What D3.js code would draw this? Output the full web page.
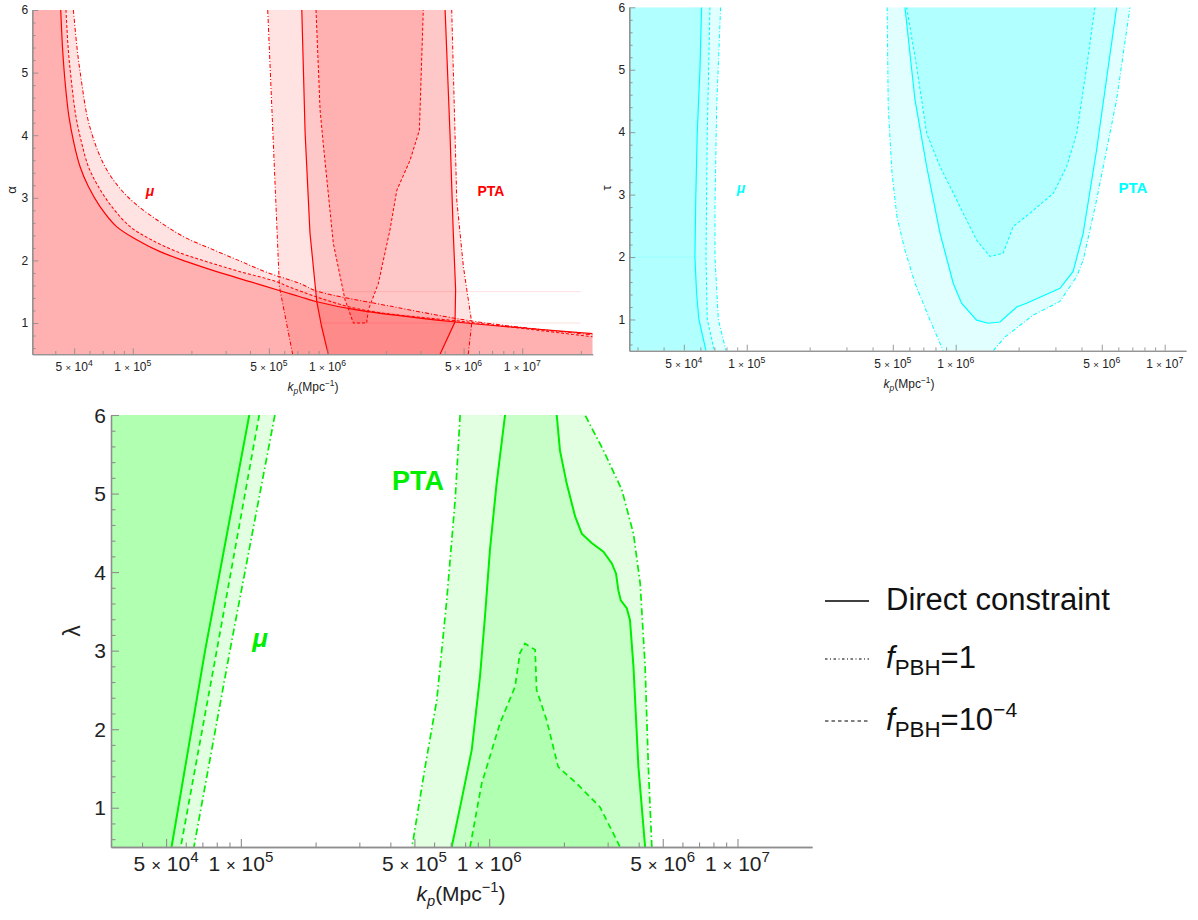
<!DOCTYPE html>
<html><head><meta charset="utf-8">
<script src="https://cdn.jsdelivr.net/npm/d3@7"></script>
<style>
body{margin:0;background:#fff;}
svg{display:block;font-family:"Liberation Sans",Arial,sans-serif;}
</style></head>
<body><svg id="c" width="1198" height="920"></svg>
<script>
// ---------------- DATA (each point: [log10 k_p (Mpc^-1), parameter]) ----------------
// Top-left panel (alpha)
const alphaMuDirect = [[4.630,6],[4.640,5.36],[4.653,4.83],[4.672,4.30],[4.698,3.87],[4.729,3.50],[4.772,3.18],[4.832,2.86],[4.917,2.54],[5.020,2.33],[5.140,2.14],[5.277,1.98],[5.431,1.82],[5.602,1.66],[5.773,1.50],[5.859,1.42],[5.945,1.34],[6.150,1.21],[6.645,1.02],[7.006,0.92],[7.362,0.83]];
const alphaMuF4 = [[4.657,6],[4.669,5.36],[4.686,4.83],[4.708,4.30],[4.738,3.87],[4.772,3.50],[4.823,3.18],[4.892,2.86],[4.986,2.54],[5.089,2.34],[5.226,2.14],[5.380,1.98],[5.551,1.82],[5.739,1.66],[5.808,1.57],[6.150,1.23],[6.767,1.00],[7.362,0.78]];
const alphaMuF1 = [[4.695,6],[4.715,5.36],[4.738,4.83],[4.766,4.30],[4.806,3.87],[4.857,3.50],[4.926,3.18],[5.011,2.91],[5.123,2.65],[5.260,2.38],[5.414,2.17],[5.551,1.99],[5.688,1.81],[5.859,1.63],[5.945,1.51],[6.321,1.27],[6.767,1.02],[7.362,0.81]];
const alphaPtaDirectLeft = [[5.868,6],[5.885,4.04],[5.910,2.44],[5.945,1.34],[5.970,0.94],[6.004,0.5]];
const alphaPtaDirectRight = [[6.578,0.5],[6.655,1.02],[6.658,1.53],[6.646,2.44],[6.629,4.04],[6.604,6]];
const alphaPtaF1Left = [[5.693,6],[5.753,1.58],[5.821,0.5]];
const alphaPtaF1Right = [[6.723,0.5],[6.741,1.0],[6.698,1.90],[6.664,2.96],[6.638,6]];
const alphaPtaF4 = [[5.941,6],[5.962,4.40],[5.978,3.87],[6.030,2.27],[6.090,1.37],[6.133,1.0],[6.201,1.0],[6.210,1.21],[6.261,1.63],[6.321,2.49],[6.356,3.12],[6.424,3.60],[6.472,4.08],[6.492,6]];

// Top-right panel (tau)
const tauMuDirect = [[4.784,6],[4.776,5.0],[4.763,3.98],[4.756,2.92],[4.752,2.0],[4.760,1.42],[4.771,1.0],[4.805,0.5]];
const tauMuF4 = [[4.824,6],[4.811,3.98],[4.805,2.0],[4.811,1.0],[4.845,0.5]];
const tauMuF1 = [[4.875,6],[4.856,4.40],[4.848,2.8],[4.848,2.0],[4.864,1.0],[4.901,0.5]];
const tauPtaDirect = [[5.757,6],[5.805,4.52],[5.861,3.45],[5.925,2.38],[5.988,1.58],[6.028,1.26],[6.100,0.99],[6.156,0.94],[6.212,0.96],[6.292,1.20],[6.339,1.26],[6.499,1.50],[6.562,1.77],[6.610,2.38],[6.674,3.71],[6.770,6]];
const tauPtaF4 = [[5.765,6],[5.813,5.05],[5.861,3.98],[5.925,3.45],[6.005,2.91],[6.100,2.27],[6.164,2.01],[6.227,2.06],[6.275,2.49],[6.355,2.70],[6.467,3.02],[6.531,3.45],[6.579,3.98],[6.627,5.05],[6.666,6]];
const tauPtaF1Left = [[5.672,6],[5.677,4.40],[5.695,3.35],[5.719,2.64],[5.757,2.11],[5.805,1.58],[5.877,0.99],[5.940,0.5]];
const tauPtaF1Right = [[6.180,0.5],[6.236,0.72],[6.371,1.07],[6.499,1.29],[6.579,1.69],[6.610,1.95],[6.674,2.91],[6.770,4.52],[6.834,6]];

// Bottom panel (lambda)
const lambdaMuDirect = [[5.034,6],[4.856,3.0],[4.721,0.5]];
const lambdaMuF4 = [[5.074,6],[4.903,3.0],[4.758,0.5]];
const lambdaMuF1 = [[5.137,6],[4.956,3.0],[4.811,0.5]];
const lambdaPtaDirectLeft = [[6.064,6],[6.030,5.13],[6.003,4.28],[5.983,3.43],[5.963,2.67],[5.930,1.74],[5.889,1.10],[5.849,0.5]];
const lambdaPtaDirectRight = [[6.628,0.5],[6.601,1.52],[6.581,2.80],[6.567,3.39],[6.554,3.54],[6.530,3.64],[6.520,3.77],[6.511,3.98],[6.494,4.11],[6.460,4.26],[6.413,4.37],[6.373,4.49],[6.346,4.71],[6.312,5.13],[6.285,5.55],[6.272,6]];
const lambdaPtaF1Left = [[5.883,6],[5.863,4.92],[5.829,3.64],[5.789,2.37],[5.742,1.52],[5.694,0.59],[5.688,0.5]];
const lambdaPtaF1Right = [[6.655,0.5],[6.641,1.52],[6.628,2.80],[6.608,3.86],[6.581,4.49],[6.534,5.05],[6.460,5.55],[6.386,6]];
const lambdaPtaF4 = [[5.923,0.5],[5.970,1.31],[6.044,2.08],[6.104,2.54],[6.124,2.97],[6.144,3.09],[6.185,3.01],[6.191,2.50],[6.231,2.12],[6.278,1.52],[6.352,1.31],[6.446,1.01],[6.486,0.76],[6.527,0.5]];

// Ticks and labels
const yRange = [0.5, 6];
const yMajorTicks = [1,2,3,4,5,6];
const xLabeledTicks = [5e4,1e5,5e5,1e6,5e6,1e7];
const legendLabels = ["Direct constraint","f_PBH=1","f_PBH=10^-4"];
const yAxisSymbols = ["α","τ","λ"];

// ---------------- LAYOUT ----------------
const svg = d3.select('#c');
const AX = '#8e8e8e';

const panels = [
  {sym:yAxisSymbols[0], color:'#ff0000', fill:'#ff0000', box:{l:32.3,r:592.7,t:10,b:354.3}, kDom:[Math.pow(10,4.484),Math.pow(10,7.362)],
   fs:12, maj:6, min:3.3, lw:1.2, dash:'3,2', dashdot:'4,2,1,2',
   ylab:{x:11,y:190,fs:13}, xlab:{x:313,y:391,fs:12}, ytickDx:4, xtickDy:17,
   mu:{label:'μ',x:150,y:196,fs:14}, pta:{label:'PTA',x:491,y:196,fs:14},
   mode:'TL'},
  {sym:yAxisSymbols[1], color:'#00ffff', fill:'#00ffff', box:{l:629.3,r:1186,t:7.3,b:350.7}, kDom:[Math.pow(10,4.438),Math.pow(10,7.102)],
   fs:12, maj:6, min:3.3, lw:1.2, dash:'3,2', dashdot:'4,2,1,2',
   ylab:{x:606,y:188,fs:13}, xlab:{x:909,y:388,fs:12}, ytickDx:4, xtickDy:17,
   mu:{label:'μ',x:741,y:193,fs:14}, pta:{label:'PTA',x:1133,y:193,fs:15},
   mode:'TR'},
  {sym:yAxisSymbols[2], color:'#00ee00', fill:'#00ff00', box:{l:111,r:812,t:415,b:847}, kDom:[3e4,Math.pow(10,7.300)],
   fs:21, maj:8, min:4.5, lw:2, dash:'6,4', dashdot:'7,3,1.5,3',
   ylab:{x:72,y:631,fs:23}, xlab:{x:461,y:901,fs:21}, ytickDx:5, xtickDy:24,
   mu:{label:'μ',x:260,y:647,fs:26}, pta:{label:'PTA',x:418,y:490,fs:27},
   mode:'B'}
];

const regionData = {
  TL: {
    mu:[{d:alphaMuF1,s:'dd'},{d:alphaMuF4,s:'da'},{d:alphaMuDirect,s:'so'}],
    pta:[{l:alphaPtaF1Left,r:alphaPtaF1Right,s:'dd'},{l:alphaPtaDirectLeft,r:alphaPtaDirectRight,s:'so'},{u:alphaPtaF4,s:'da'}],
    seams:[[5.808,7.30,1.5],[5.961,7.30,1.0]]
  },
  TR: {
    mu:[{d:tauMuF1,s:'dd'},{d:tauMuF4,s:'da'},{d:tauMuDirect,s:'so'}],
    pta:[{l:tauPtaF1Left,r:tauPtaF1Right,s:'dd'},{u:tauPtaDirect,s:'so'},{u:tauPtaF4,s:'da'}],
    seams:[[4.438,4.776,2.0]]
  },
  B: {
    mu:[{d:lambdaMuF1,s:'dd'},{d:lambdaMuF4,s:'da'},{d:lambdaMuDirect,s:'so'}],
    pta:[{l:lambdaPtaF1Left,r:lambdaPtaF1Right,s:'dd'},{l:lambdaPtaDirectLeft,r:lambdaPtaDirectRight,s:'so'},{u:lambdaPtaF4,s:'da'}],
    seams:[]
  }
};

const FILL_OP = 0.115;

panels.forEach((p,pi)=>{
  const b = p.box;
  const x = d3.scaleLog().domain(p.kDom).range([b.l,b.r]);
  const y = d3.scaleLinear().domain(yRange).range([b.b,b.t]);
  const lkMin = Math.log10(p.kDom[0]), lkMax = Math.log10(p.kDom[1]);
  const toPx = arr => arr.map(d=>[x(Math.pow(10,d[0])), y(d[1])]);
  const line = d3.line();
  const smooth = d3.line().curve(d3.curveCatmullRom.alpha(0.5));

  const cid = 'clip'+pi;
  svg.append('clipPath').attr('id',cid).append('rect')
     .attr('x',b.l).attr('y',b.t).attr('width',b.r-b.l).attr('height',b.b-b.t);
  const g = svg.append('g').attr('clip-path',`url(#${cid})`);
  const R = regionData[p.mode];

  // fills
  R.mu.forEach(r=>{
    let pts = r.d.slice();
    if (p.mode==='TL') pts = pts.concat([[lkMax,yRange[0]],[lkMin,yRange[0]],[lkMin,yRange[1]]]);
    else pts = pts.concat([[lkMin,yRange[0]],[lkMin,yRange[1]]]);
    g.append('path').attr('d',line(toPx(pts))+'Z').attr('fill',p.fill).attr('fill-opacity',FILL_OP);
  });
  R.pta.forEach(r=>{
    const pts = r.u ? r.u : r.l.concat(r.r);
    g.append('path').attr('d',line(toPx(pts))+'Z').attr('fill',p.fill).attr('fill-opacity',FILL_OP);
  });
  // faint seams (rendering artifacts in the original)
  R.seams.forEach(s=>{
    g.append('line').attr('x1',x(Math.pow(10,s[0]))).attr('x2',x(Math.pow(10,s[1])))
      .attr('y1',y(s[2])).attr('y2',y(s[2]))
      .attr('stroke',p.color).attr('stroke-opacity',0.12).attr('stroke-width',1);
  });

  const styleOf = s => s==='so'?null:(s==='da'?p.dash:p.dashdot);
  const stroke = (arr,s,sm)=>{
    g.append('path').attr('d',(sm?smooth:line)(toPx(arr))).attr('fill','none')
     .attr('stroke',p.color).attr('stroke-width',s==='so'?p.lw:p.lw*0.85)
     .attr('stroke-dasharray',styleOf(s));
  };
  R.mu.forEach(r=>stroke(r.d,r.s,p.mode==='TL'));
  R.pta.forEach(r=>{
    if (r.u) stroke(r.u,r.s,false);
    else { stroke(r.l,r.s,false); stroke(r.r,r.s,false); }
  });

  // axes
  const ax = svg.append('g');
  const allX = [];
  for (let n=4;n<=7;n++) for (let m=1;m<=9;m++){ const v=m*Math.pow(10,n); if(v>=p.kDom[0]&&v<=p.kDom[1]) allX.push(v); }
  const minorX = allX.filter(v=>!xLabeledTicks.some(t=>Math.abs(t-v)/t<1e-9));
  const majorX = xLabeledTicks.filter(v=>v>=p.kDom[0]&&v<=p.kDom[1]);
  const gxMin = ax.append('g').attr('transform',`translate(0,${b.b})`)
     .call(d3.axisBottom(x).tickValues(minorX).tickSize(-p.min).tickSizeOuter(0).tickFormat(''));
  const gxMaj = ax.append('g').attr('transform',`translate(0,${b.b})`)
     .call(d3.axisBottom(x).tickValues(majorX).tickSize(-p.maj).tickSizeOuter(0).tickFormat(''));
  const minorY = d3.range(6,60,2).map(v=>v/10).filter(v=>Math.abs(v-Math.round(v))>1e-6);
  const gyMin = ax.append('g').attr('transform',`translate(${b.l},0)`)
     .call(d3.axisLeft(y).tickValues(minorY).tickSize(-p.min).tickSizeOuter(0).tickFormat(''));
  const gyMaj = ax.append('g').attr('transform',`translate(${b.l},0)`)
     .call(d3.axisLeft(y).tickValues(yMajorTicks).tickSize(-p.maj).tickSizeOuter(0).tickFormat(''));
  [gxMin,gxMaj,gyMin,gyMaj].forEach(gg=>{
    gg.selectAll('path.domain').attr('stroke',AX).attr('stroke-width',p.mode==='B'?1.3:1.1);
    gg.selectAll('.tick line').attr('stroke',AX).attr('stroke-width',p.mode==='B'?1.1:0.9);
  });

  yMajorTicks.forEach(v=>{
    ax.append('text').attr('x',b.l-p.ytickDx).attr('y',y(v)).attr('dy','0.36em')
      .attr('text-anchor','end').attr('font-size',p.fs).attr('fill','#222').text(v);
  });
  majorX.forEach(v=>{
    const e = Math.floor(Math.log10(v)+1e-9), m = Math.round(v/Math.pow(10,e));
    const t = ax.append('text').attr('x',x(v)).attr('y',b.b+p.xtickDy)
      .attr('text-anchor','middle').attr('font-size',p.fs).attr('fill','#222');
    t.append('tspan').text(m+' ');
    t.append('tspan').attr('font-size',p.fs*0.8).text('×');
    t.append('tspan').text(' 10');
    t.append('tspan').attr('dy',-0.42*p.fs).attr('font-size',p.fs*0.72).text(e);
  });
  const fs = p.xlab.fs;
  const xl = ax.append('text').attr('x',p.xlab.x).attr('y',p.xlab.y).attr('text-anchor','middle')
     .attr('font-size',fs).attr('fill','#222');
  xl.append('tspan').attr('font-style','italic').text('k');
  xl.append('tspan').attr('font-style','italic').attr('font-size',fs*0.7).attr('dy',fs*0.25).text('p');
  xl.append('tspan').attr('dy',-fs*0.25).text('(Mpc');
  xl.append('tspan').attr('font-size',fs*0.7).attr('dy',-fs*0.42).text('−1');
  xl.append('tspan').attr('dy',fs*0.42).text(')');
  ax.append('text').attr('transform',`translate(${p.ylab.x},${p.ylab.y}) rotate(-90)`)
    .attr('text-anchor','middle').attr('dy','0.35em').attr('font-size',p.ylab.fs).attr('fill','#222').text(p.sym);
  ax.append('text').attr('x',p.mu.x).attr('y',p.mu.y).attr('text-anchor','middle')
    .attr('font-size',p.mu.fs).attr('font-weight','bold').attr('font-style','italic').attr('fill',p.color).text(p.mu.label);
  ax.append('text').attr('x',p.pta.x).attr('y',p.pta.y).attr('text-anchor','middle')
    .attr('font-size',p.pta.fs).attr('font-weight','bold').attr('fill',p.color).text(p.pta.label);
});

// ---------------- LEGEND ----------------
const lg = svg.append('g');
const legRows = [
  {y:601, dash:null, lw:1.6},
  {y:659, dash:'2.5,2.5,1,2.5', lw:1},
  {y:721, dash:'3.5,3', lw:1}
];
const LFS = 31;
legRows.forEach((r,i)=>{
  lg.append('line').attr('x1',825).attr('x2',869).attr('y1',r.y).attr('y2',r.y)
    .attr('stroke','#000').attr('stroke-width',r.lw).attr('stroke-dasharray',r.dash);
  const t = lg.append('text').attr('x',886).attr('y',r.y+9).attr('font-size',LFS).attr('fill','#111');
  const lab = legendLabels[i];
  if (i===0) { t.text(lab); return; }
  const [, rest] = lab.split('_');
  const [sub, val] = rest.split('=');
  t.append('tspan').attr('font-style','italic').text('f');
  t.append('tspan').attr('font-size',LFS*0.72).attr('dy',LFS*0.22).text(sub);
  t.append('tspan').attr('dy',-LFS*0.22).text('=');
  if (val.includes('^')) {
    const [base, ex] = val.split('^');
    t.append('tspan').text(base);
    t.append('tspan').attr('font-size',LFS*0.68).attr('dy',-LFS*0.42).text(ex.replace('-','−'));
  } else t.append('tspan').text(val);
});
</script>
</body></html>
